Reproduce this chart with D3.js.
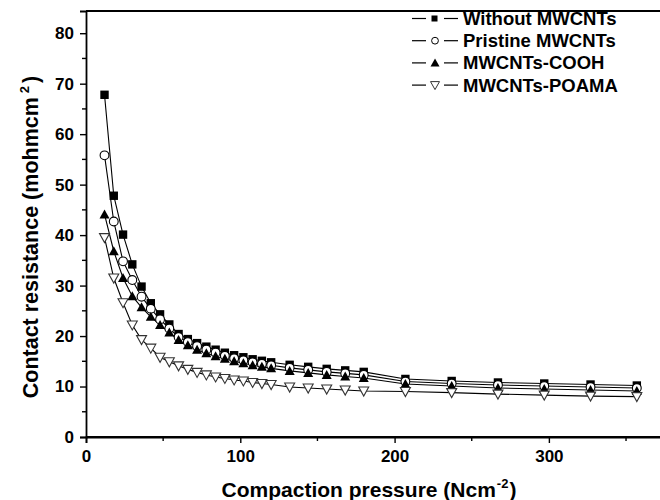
<!DOCTYPE html>
<html><head><meta charset="utf-8">
<script src="https://cdn.jsdelivr.net/npm/d3@7"></script>
<style>
html,body{margin:0;padding:0;background:#fff;}
svg{display:block;font-family:"Liberation Sans",Arial,sans-serif;font-weight:bold;}
</style></head>
<body><svg id="c" width="660" height="500"></svg>
<script>
const pressure = [12,18,24,30,36,42,48,54,60,66,72,78,84,90,96,102,108,114,120,132,144,156,168,180,207,237,267,297,327,357];
const withoutMW = [67.8,47.8,40.1,34.2,29.8,26.5,24.3,22.3,20.4,19.4,18.6,17.9,17.3,16.7,16.2,15.8,15.4,15.1,14.8,14.3,13.9,13.5,13.2,12.9,11.5,11.1,10.8,10.6,10.4,10.2];
const pristine = [55.8,42.7,34.8,31.1,27.8,25.4,23.3,21.5,19.8,18.8,18.0,17.3,16.7,16.1,15.6,15.2,14.8,14.5,14.2,13.7,13.3,12.9,12.6,12.3,11.0,10.6,10.3,10.1,9.9,9.7];
const cooh = [44.1,36.8,31.5,27.9,25.7,23.8,22.2,20.7,19.2,18.2,17.3,16.6,16.0,15.5,15.0,14.6,14.2,13.9,13.6,13.1,12.7,12.3,12.0,11.7,10.5,10.1,9.7,9.5,9.3,9.1];
const poama = [39.5,31.5,26.6,22.2,19.3,17.6,15.8,14.9,14.1,13.4,12.8,12.3,11.9,11.6,11.3,11.1,10.8,10.6,10.4,9.9,9.7,9.5,9.3,9.1,9.0,8.8,8.5,8.3,8.1,8.0];
const seriesNames = ["Without MWCNTs","Pristine MWCNTs","MWCNTs-COOH","MWCNTs-POAMA"];
const xTicks = [0,100,200,300];
const xMinor = [50,150,250,350];
const yTicks = [0,10,20,30,40,50,60,70,80];
const yMinor = [5,15,25,35,45,55,65,75];

const svg = d3.select("#c");
const x = d3.scaleLinear().domain([0,375]).range([86,664.6]);
const y = d3.scaleLinear().domain([0,84.4]).range([437,11]);

const series = [
  {name:seriesNames[0], vals:withoutMW, shape:"square"},
  {name:seriesNames[1], vals:pristine, shape:"circle"},
  {name:seriesNames[2], vals:cooh, shape:"up"},
  {name:seriesNames[3], vals:poama, shape:"down"}
];

function marker(g, shape, cx, cy){
  if(shape==="square"){
    g.append("rect").attr("x",cx-4.2).attr("y",cy-4.2).attr("width",8.4).attr("height",8.4).attr("fill","#000");
  } else if(shape==="circle"){
    g.append("circle").attr("cx",cx).attr("cy",cy).attr("r",4.4).attr("fill","#fff").attr("stroke","#000").attr("stroke-width",1.1);
  } else if(shape==="up"){
    g.append("path").attr("d",`M${cx},${cy-5}L${cx+5},${cy+4}L${cx-5},${cy+4}Z`).attr("fill","#000");
  } else {
    g.append("path").attr("d",`M${cx-5},${cy-4}L${cx+5},${cy-4}L${cx},${cy+5}Z`).attr("fill","#fff").attr("stroke","#333").attr("stroke-width",1.1);
  }
}

// top frame
svg.append("line").attr("x1",x(0)).attr("x2",660).attr("y1",y(84.4)).attr("y2",y(84.4)).attr("stroke","#000").attr("stroke-width",2.2);

// axes
const xAxis = svg.append("g").attr("transform",`translate(0,${y(0)})`)
  .call(d3.axisBottom(x).tickValues(xTicks).tickSizeOuter(0).tickSize(6).tickPadding(7));
xAxis.append("g").selectAll("line").data(xMinor).join("line")
  .attr("x1",d=>x(d)).attr("x2",d=>x(d)).attr("y1",0).attr("y2",4).attr("stroke","#000").attr("stroke-width",1.4);
const yAxis = svg.append("g").attr("transform",`translate(${x(0)},0)`)
  .call(d3.axisLeft(y).tickValues(yTicks).tickSizeOuter(0).tickSize(6).tickPadding(6));
yAxis.append("g").selectAll("line").data(yMinor).join("line")
  .attr("x1",0).attr("x2",-4).attr("y1",d=>y(d)).attr("y2",d=>y(d)).attr("stroke","#000").attr("stroke-width",1.4);
[xAxis,yAxis].forEach(a=>{
  a.select(".domain").attr("stroke-width",1.8);
  a.selectAll(".tick line").attr("stroke-width",1.4);
  a.selectAll(".tick text").attr("font-size",17).attr("font-weight","bold").attr("font-family","Liberation Sans, Arial, sans-serif").attr("fill","#000");
});
svg.append("line").attr("x1",x(0)).attr("x2",660).attr("y1",y(0)).attr("y2",y(0)).attr("stroke","#000").attr("stroke-width",1.8);

// lines
const line = d3.line().x(d=>x(d[0])).y(d=>y(d[1]));
series.forEach(s=>{
  svg.append("path").datum(pressure.map((p,i)=>[p,s.vals[i]]))
    .attr("d",line).attr("fill","none").attr("stroke","#000").attr("stroke-width",1.1);
});
series.forEach(s=>{
  const g = svg.append("g");
  pressure.forEach((p,i)=>marker(g,s.shape,x(p),y(s.vals[i])));
});

// legend
const lg = svg.append("g");
series.forEach((s,i)=>{
  const cy = 18.5 + i*22.2;
  lg.append("line").attr("x1",412).attr("x2",426).attr("y1",cy).attr("y2",cy).attr("stroke","#000").attr("stroke-width",1.2);
  lg.append("line").attr("x1",444).attr("x2",458).attr("y1",cy).attr("y2",cy).attr("stroke","#000").attr("stroke-width",1.2);
  if(s.shape==="square"){
    lg.append("rect").attr("x",431.5).attr("y",cy-3).attr("width",6).attr("height",6).attr("fill","#000");
  } else if(s.shape==="circle"){
    lg.append("circle").attr("cx",435).attr("cy",cy).attr("r",3.4).attr("fill","#fff").attr("stroke","#000").attr("stroke-width",1);
  } else if(s.shape==="up"){
    lg.append("path").attr("d",`M435,${cy-4.5}L439.5,${cy+3.5}L430.5,${cy+3.5}Z`).attr("fill","#000");
  } else {
    lg.append("path").attr("d",`M430.5,${cy-3.5}L439.5,${cy-3.5}L435,${cy+4.5}Z`).attr("fill","#fff").attr("stroke","#333").attr("stroke-width",1);
  }
  lg.append("text").attr("x",463).attr("y",cy+6.5).attr("font-size",18.5).attr("font-weight","bold").attr("fill","#000").text(s.name);
});

// axis titles
const xt = svg.append("text").attr("x",369).attr("y",497).attr("text-anchor","middle").attr("font-size",21).attr("font-weight","bold");
xt.append("tspan").text("Compaction pressure (Ncm");
xt.append("tspan").attr("dy",-9).attr("dx",1).attr("font-size",13).text("-2");
xt.append("tspan").attr("dy",9).attr("dx",1).text(")");

const yt = svg.append("text").attr("transform","translate(38,237) rotate(-90)").attr("text-anchor","middle").attr("font-size",21.5).attr("font-weight","bold");
yt.append("tspan").text("Contact resistance (mohmcm");
yt.append("tspan").attr("dy",-9).attr("dx",4).attr("font-size",13).text("2");
yt.append("tspan").attr("dy",9).attr("dx",3).text(")");
</script></body></html>
